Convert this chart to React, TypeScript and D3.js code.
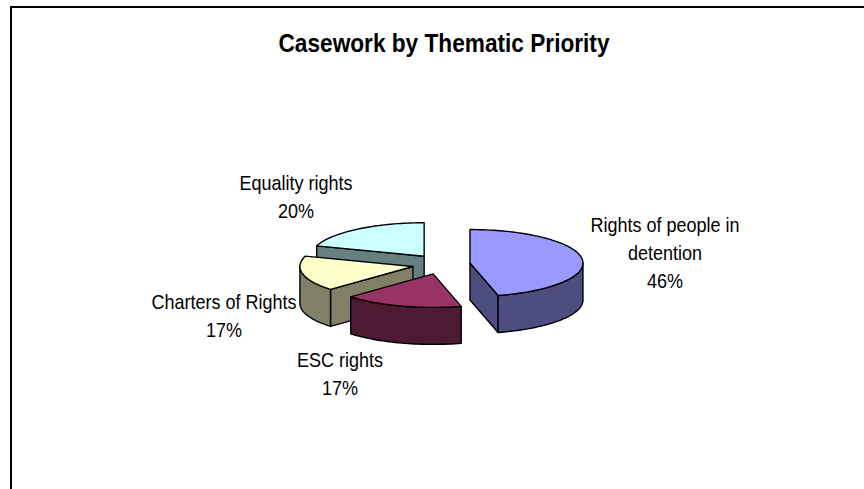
import React from "react";
import * as d3 from "d3";

const categories = ["Rights of people in detention", "ESC rights", "Charters of Rights", "Equality rights"];
const values = [46, 17, 17, 20];
const topColors = ["#9999ff", "#993366", "#ffffcc", "#ccffff"];
const sideColors = ["#4d4d80", "#4d1a33", "#808066", "#668080"];
const labelLines = [["Rights of people in", "detention", "46%"], ["ESC rights", "17%"], ["Charters of Rights", "17%"], ["Equality rights", "20%"]];
const labelPos = [[665, 232], [340, 367], [224, 309], [296, 190]];

const W = 864, H = 489;
const cx = 441.2, cy = 264.3, rx = 113, ry = 33.5, ex = 29, ey = 10, depth = 37;
const textSquash = 0.9;
const font = "'Liberation Sans', Arial, sans-serif";

const pie = d3.pie<number>().sort(null).value((d) => d);
const arcs = pie(values);

const sample = (a: number, b: number) => {
  const n = Math.max(2, Math.ceil(Math.abs(b - a) / 0.03));
  return d3.range(n + 1).map((i) => a + ((b - a) * i) / n);
};

export default function App() {
  const line = d3.line();
  const slices = arcs.map((s, i) => {
    const mid = (s.startAngle + s.endAngle) / 2;
    const ax = cx + ex * Math.sin(mid);
    const ay = cy - ey * Math.cos(mid);
    const pt = (t: number): [number, number] => [ax + rx * Math.sin(t), ay - ry * Math.cos(t)];
    const top = line([[ax, ay], ...sample(s.startAngle, s.endAngle).map(pt)])! + "Z";
    const walls: string[] = [];
    const radial = (t: number) => {
      const p = pt(t);
      walls.push(line([[ax, ay], p, [p[0], p[1] + depth], [ax, ay + depth]])! + "Z");
    };
    // a cut face shows when its outward side points towards the viewer
    if (-Math.sin(s.startAngle) > 0.01) radial(s.startAngle);
    if (Math.sin(s.endAngle) > 0.01) radial(s.endAngle);
    const lo = Math.max(s.startAngle, Math.PI / 2);
    const hi = Math.min(s.endAngle, (3 * Math.PI) / 2);
    if (hi > lo) {
      const ts = sample(lo, hi).map(pt);
      const down = ts.map(([x, y]) => [x, y + depth] as [number, number]).reverse();
      walls.push(line([...ts, ...down])! + "Z");
    }
    return { top, walls, i };
  });

  return (
    <svg width={W} height={H} style={{ position: "absolute", left: 0, top: 0 }} xmlns="http://www.w3.org/2000/svg">
      <rect width={W} height={H} fill="#fff" />
      <path d={`M11 ${H} V7 H${W}`} fill="none" stroke="#000" strokeWidth={2} />
      <text x={444} y={52} textAnchor="middle" fontFamily={font} fontWeight="bold" fontSize={25} fill="#000" textLength={331} lengthAdjust="spacingAndGlyphs">
        Casework by Thematic Priority
      </text>
      {[3, 2, 1, 0].map((k) => {
        const s = slices[k];
        return (
          <g key={k} stroke="#000" strokeWidth={1.4} strokeLinejoin="round">
            {s.walls.map((d, j) => (
              <path key={j} d={d} fill={sideColors[k]} />
            ))}
            <path d={s.top} fill={topColors[k]} />
          </g>
        );
      })}
      {labelLines.map((ls, i) => (
        <text key={categories[i]} textAnchor="middle" fontFamily={font} fontSize={20} fill="#000" transform={`scale(${textSquash},1)`}>
          {ls.map((t, j) => (
            <tspan key={j} x={labelPos[i][0] / textSquash} y={labelPos[i][1] + j * 28}>{t}</tspan>
          ))}
        </text>
      ))}
    </svg>
  );
}
